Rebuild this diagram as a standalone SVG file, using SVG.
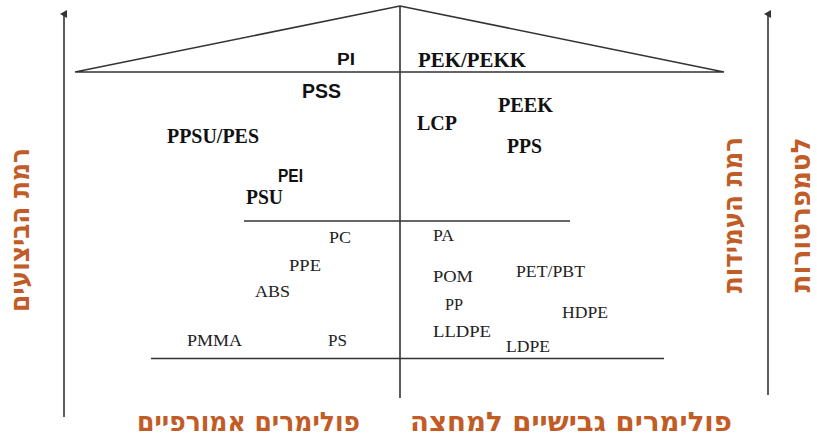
<svg xmlns="http://www.w3.org/2000/svg" width="817" height="438" viewBox="0 0 817 438">
<style>
.ln{stroke:#333;stroke-width:1.6;fill:none}
.sb{font-family:"Liberation Sans",Arial,sans-serif;font-weight:bold;fill:#111}
.tb{font-family:"Liberation Serif","Times New Roman",serif;font-weight:bold;fill:#111;font-size:20px}
.tr{font-family:"Liberation Serif","Times New Roman",serif;fill:#222;font-size:16.5px}
.he{font-family:"DejaVu Sans","Liberation Sans",sans-serif;font-weight:bold;fill:#c25c26;font-size:27px}
</style>
<defs>
<marker id="ah" markerWidth="8" markerHeight="8" refX="4" refY="4" orient="auto" markerUnits="userSpaceOnUse">
<path d="M0,7 L4,0 L8,7 Z" fill="#333"/>
</marker>
</defs>
<g id="connectors">
<line class="ln" x1="64" y1="417" x2="64" y2="14" marker-end="url(#ah)"/>
<line class="ln" x1="768" y1="395" x2="768" y2="14" marker-end="url(#ah)"/>
<line class="ln" x1="400" y1="6" x2="400" y2="398"/>
<polyline class="ln" points="75,72 400,6 724,72 75,72"/>
<line class="ln" x1="244" y1="221" x2="570" y2="221"/>
<line class="ln" x1="151" y1="358.5" x2="664" y2="358.5"/>
</g>
<g id="n-PI"><text class="sb" x="337" y="65" font-size="16" textLength="18" lengthAdjust="spacingAndGlyphs">PI</text></g>
<g id="n-PSS"><text class="sb" x="302" y="98" font-size="20" textLength="39" lengthAdjust="spacingAndGlyphs">PSS</text></g>
<g id="n-PPSUPES"><text class="tb" x="167" y="143" textLength="92" lengthAdjust="spacingAndGlyphs">PPSU/PES</text></g>
<g id="n-PEI"><text class="sb" x="278" y="182" font-size="18" textLength="25" lengthAdjust="spacingAndGlyphs">PEI</text></g>
<g id="n-PSU"><text class="tb" x="246" y="204" textLength="37" lengthAdjust="spacingAndGlyphs">PSU</text></g>
<g id="n-PEKPEKK"><text class="tb" x="418" y="67" textLength="108" lengthAdjust="spacingAndGlyphs">PEK/PEKK</text></g>
<g id="n-PEEK"><text class="tb" x="498" y="112" textLength="55" lengthAdjust="spacingAndGlyphs">PEEK</text></g>
<g id="n-LCP"><text class="tb" x="417" y="130" textLength="40" lengthAdjust="spacingAndGlyphs">LCP</text></g>
<g id="n-PPS"><text class="tb" x="507" y="153" textLength="35" lengthAdjust="spacingAndGlyphs">PPS</text></g>
<g id="n-PC"><text class="tr" x="329" y="243" textLength="22" lengthAdjust="spacingAndGlyphs">PC</text></g>
<g id="n-PPE"><text class="tr" x="289" y="271" textLength="32" lengthAdjust="spacingAndGlyphs">PPE</text></g>
<g id="n-ABS"><text class="tr" x="255" y="297" textLength="35" lengthAdjust="spacingAndGlyphs">ABS</text></g>
<g id="n-PMMA"><text class="tr" x="187" y="346" textLength="55" lengthAdjust="spacingAndGlyphs">PMMA</text></g>
<g id="n-PS"><text class="tr" x="328" y="346" textLength="19" lengthAdjust="spacingAndGlyphs">PS</text></g>
<g id="n-PA"><text class="tr" x="433" y="241" textLength="21" lengthAdjust="spacingAndGlyphs">PA</text></g>
<g id="n-POM"><text class="tr" x="433" y="282" textLength="40" lengthAdjust="spacingAndGlyphs">POM</text></g>
<g id="n-PETPBT"><text class="tr" x="516" y="277" textLength="69" lengthAdjust="spacingAndGlyphs">PET/PBT</text></g>
<g id="n-PP"><text class="tr" x="445" y="310" textLength="18" lengthAdjust="spacingAndGlyphs">PP</text></g>
<g id="n-HDPE"><text class="tr" x="562" y="318" textLength="46" lengthAdjust="spacingAndGlyphs">HDPE</text></g>
<g id="n-LLDPE"><text class="tr" x="433" y="337" textLength="58" lengthAdjust="spacingAndGlyphs">LLDPE</text></g>
<g id="n-LDPE"><text class="tr" x="506" y="352" textLength="44" lengthAdjust="spacingAndGlyphs">LDPE</text></g>
<g id="lbl-amorphous"><text class="he" x="248.5" y="431" text-anchor="middle" direction="rtl" textLength="223" lengthAdjust="spacingAndGlyphs">פולימרים אמורפיים</text></g>
<g id="lbl-semicrystalline"><text class="he" x="571" y="431" text-anchor="middle" direction="rtl" textLength="322" lengthAdjust="spacingAndGlyphs">פולימרים גבישיים למחצה</text></g>
<g id="lbl-performance"><text class="he" transform="translate(29,230) rotate(-90)" x="0" y="0" text-anchor="middle" direction="rtl" textLength="164" lengthAdjust="spacingAndGlyphs">רמת הביצועים</text></g>
<g id="lbl-resistance"><text class="he" transform="translate(742,215) rotate(-90)" x="0" y="0" text-anchor="middle" direction="rtl" textLength="156" lengthAdjust="spacingAndGlyphs">רמת העמידות</text></g>
<g id="lbl-temperature"><text class="he" transform="translate(810,215) rotate(-90)" x="0" y="0" text-anchor="middle" direction="rtl" textLength="155" lengthAdjust="spacingAndGlyphs">לטמפרטורות</text></g>
</svg>
